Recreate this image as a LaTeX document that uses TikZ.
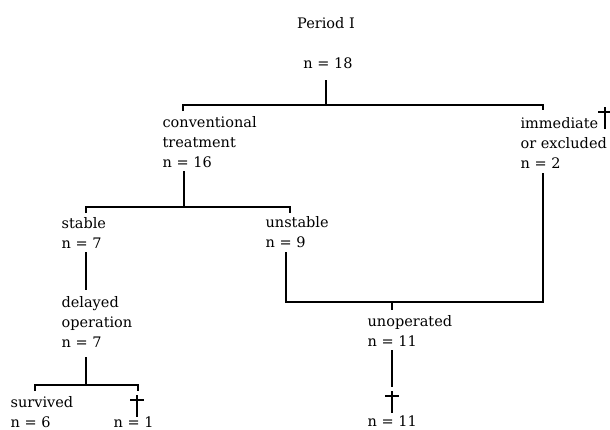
\documentclass[tikz,border=0pt]{standalone}
\usepackage{fontspec}
\setmainfont{DejaVu Serif}
\begin{document}
\begin{tikzpicture}[x=1pt, y=-1pt, line width=1.2pt,
	lbl/.style={anchor=base west, inner sep=0pt, align=left, font=\fontsize{14.5}{20}\selectfont},
	dagger/.pic={\draw (0,0) -- (0,22); \draw (-7,5) -- (7,5);}]

	% Picture frame
	\useasboundingbox (0,0) rectangle (610,429);

	% Labels
	\node [lbl, anchor=base] (title) at (326,28) {Period I};
	\node [lbl, anchor=base] (top) at (328,68) {n = 18};
	\node [lbl] (conv) at (162,167) {conventional\\treatment\\n = 16};
	\node [lbl] (imm) at (520,168) {immediate\\or excluded\\n = 2};
	\node [lbl] (stable) at (61,248) {stable\\n = 7};
	\node [lbl] (unstable) at (265,247) {unstable\\n = 9};
	\node [lbl] (delayed) at (61,347) {delayed\\operation\\n = 7};
	\node [lbl] (unop) at (367,346) {unoperated\\n = 11};
	\node [lbl] (surv) at (10,427) {survived\\n = 6};
	\node [lbl] (died) at (113,427) {n = 1};
	\node [lbl] (dead) at (367,426) {n = 11};

	% Branch points
	\coordinate (j1) at (326,105);
	\coordinate (a1) at (183,111);
	\coordinate (b1) at (543,110);
	\coordinate (j2) at (184,207);
	\coordinate (a2) at (86,213);
	\coordinate (b2) at (290,213);
	\coordinate (a3) at (86,290);
	\coordinate (j3) at (86,385);
	\coordinate (a4) at (35,391);
	\coordinate (b4) at (138,391);
	\coordinate (j4) at (392,302);
	\coordinate (a5) at (392,310);
	\coordinate (a6) at (392,387);

	%Tree lines
	\draw ([yshift=-12pt]top.base -| j1) -- (j1);
	\draw (a1) |- (j1) -| (b1);
	\draw ([xshift=22pt,yshift=-4pt]conv.base west) -- (j2);
	\draw (a2) |- (j2) -| (b2);
	\draw ([xshift=25pt,yshift=-4pt]stable.base west) -- (a3);
	\draw ([xshift=25pt,yshift=-10pt]delayed.base west) -- (j3);
	\draw (a4) |- (j3) -| (b4);
	\draw ([xshift=21pt,yshift=-5pt]unstable.base west) |- (j4);
	\draw (j4) -| ([xshift=23pt,yshift=-5pt]imm.base west);
	\draw (j4) -- (a5);
	\draw ([xshift=25pt,yshift=-4pt]unop.base west) -- (a6);

	%Deaths
	\pic at (137,395) {dagger};
	\pic at (392,391) {dagger};
	\pic at (605,107) {dagger};

\end{tikzpicture}
\end{document}
